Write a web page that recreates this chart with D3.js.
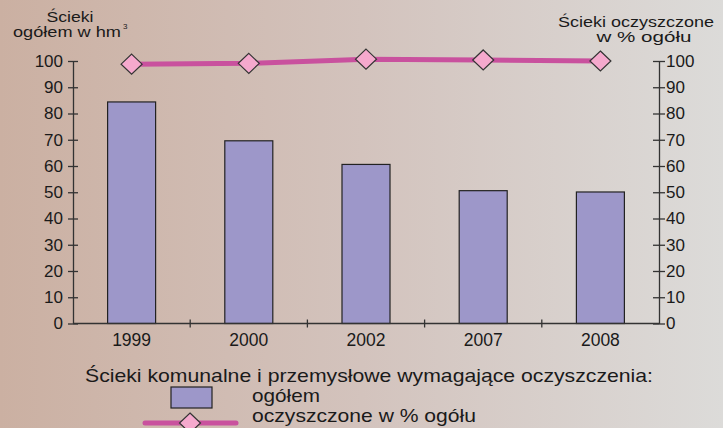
<!DOCTYPE html>
<html>
<head>
<meta charset="utf-8">
<script src="https://cdn.jsdelivr.net/npm/d3@7"></script>
<style>
  body { margin: 0; }
  svg text { font-family: "Liberation Sans", Arial, sans-serif; fill: #1a1a1a; }
</style>
</head>
<body>
<svg id="chart" width="723" height="428"></svg>
<script>
// --- dane ---
const years = ["1999", "2000", "2002", "2007", "2008"];
const totalVals = [84.4, 69.6, 60.6, 50.6, 50.1];      // ścieki ogółem, hm3
const treatedPct = [98.8, 99.1, 100.7, 100.4, 100.0];  // oczyszczone w % ogółu
const yTicks = [0, 10, 20, 30, 40, 50, 60, 70, 80, 90, 100];

const W = 723, H = 428;
const m = { left: 73, right: 659, top: 61, bottom: 323.5 };

const svg = d3.select("#chart");

// tło - gradient
const defs = svg.append("defs");
const grad = defs.append("linearGradient").attr("id", "bg").attr("x1", 0).attr("x2", 1).attr("y1", 0).attr("y2", 0);
grad.append("stop").attr("offset", "0%").attr("stop-color", "#cbb0a2");
grad.append("stop").attr("offset", "50%").attr("stop-color", "#d3c3bd");
grad.append("stop").attr("offset", "100%").attr("stop-color", "#dcdbd9");
svg.append("rect").attr("width", W).attr("height", H).attr("fill", "url(#bg)");

// skale
const x = d3.scaleBand().domain(years).range([m.left, m.right]).paddingInner(0).paddingOuter(0);
const yL = d3.scaleLinear().domain([0, 100]).range([m.bottom, m.top]);
const yR = d3.scaleLinear().domain([0, 100]).range([m.bottom, m.top]);

const barW = 48;

// słupki
svg.append("g").selectAll("rect")
  .data(years)
  .join("rect")
  .attr("x", d => x(d) + x.bandwidth() / 2 - barW / 2)
  .attr("y", (d, i) => yL(totalVals[i]))
  .attr("width", barW)
  .attr("height", (d, i) => yL(0) - yL(totalVals[i]))
  .attr("fill", "#9d97c9")
  .attr("stroke", "#222")
  .attr("stroke-width", 1.2);

// osie
const axisColor = "#333";
function styleAxis(g) {
  g.select(".domain").attr("stroke", axisColor).attr("stroke-width", 1.3);
  g.selectAll(".tick line").attr("stroke", axisColor).attr("stroke-width", 1.3);
  g.selectAll(".tick text").attr("font-size", 17).attr("fill", "#1a1a1a")
    .attr("font-family", "Liberation Sans, Arial, sans-serif");
}

const axL = svg.append("g").attr("transform", `translate(${m.left},0)`)
  .call(d3.axisLeft(yL).tickValues(yTicks).tickSize(5).tickPadding(5).tickSizeOuter(0));
axL.selectAll(".tick line").attr("x2", 5).attr("x1", -5);
styleAxis(axL);

const axR = svg.append("g").attr("transform", `translate(${m.right},0)`)
  .call(d3.axisRight(yR).tickValues(yTicks).tickSize(5).tickPadding(2).tickSizeOuter(0));
axR.selectAll(".tick line").attr("x1", -6).attr("x2", 6);
axR.selectAll(".tick text").attr("x", 7);
styleAxis(axR);

// oś X - kreski na granicach kategorii
const bounds = years.map(d => x(d)).concat([m.right]);
const axX = svg.append("g");
axX.append("line").attr("x1", m.left).attr("x2", m.right).attr("y1", yL(0)).attr("y2", yL(0))
  .attr("stroke", axisColor).attr("stroke-width", 1.3);
axX.selectAll("line.t").data(bounds.slice(1, -1)).join("line").attr("class", "t")
  .attr("x1", d => d).attr("x2", d => d).attr("y1", yL(0) - 4).attr("y2", yL(0) + 4)
  .attr("stroke", axisColor).attr("stroke-width", 1.3);
axX.selectAll("text").data(years).join("text")
  .attr("x", d => x(d) + x.bandwidth() / 2)
  .attr("y", 346)
  .attr("text-anchor", "middle")
  .attr("font-size", 17.5)
  .text(d => d);

// linia
const pts = years.map((d, i) => [x(d) + x.bandwidth() / 2, yR(treatedPct[i])]);
svg.append("path").attr("d", d3.line()(pts))
  .attr("fill", "none").attr("stroke", "#c9519e").attr("stroke-width", 5);

const diamond = (cx, cy) => `M${cx},${cy - 10}L${cx + 10.5},${cy}L${cx},${cy + 10}L${cx - 10.5},${cy}Z`;
svg.append("g").selectAll("path").data(pts).join("path")
  .attr("d", d => diamond(d[0], d[1]))
  .attr("fill", "#f5a9cd").attr("stroke", "#333").attr("stroke-width", 1.2);

// tekst rozciągnięty w poziomie (jak w oryginale)
function wideText(txt, x0, y0, size, len, anchor) {
  return svg.append("text")
    .attr("x", x0).attr("y", y0)
    .attr("font-size", size)
    .attr("text-anchor", anchor || "start")
    .attr("textLength", len)
    .attr("lengthAdjust", "spacingAndGlyphs")
    .text(txt);
}

// tytuły osi
wideText("Ścieki", 70, 22, 14.5, 47, "middle");
wideText("ogółem w hm", 13, 37, 14.5, 108);
svg.append("text").attr("x", 123).attr("y", 29).attr("font-size", 8).text("3");

wideText("Ścieki oczyszczone", 636, 27, 14.5, 156, "middle");
wideText("w % ogółu", 644, 42, 14.5, 95, "middle");

// legenda
wideText("Ścieki komunalne i przemysłowe wymagające oczyszczenia:", 369, 382, 19, 568, "middle");
svg.append("rect").attr("x", 171).attr("y", 387).attr("width", 41).attr("height", 21)
  .attr("fill", "#9d97c9").attr("stroke", "#222").attr("stroke-width", 1.2);
wideText("ogółem", 252, 402, 19, 68);
svg.append("line").attr("x1", 145).attr("x2", 236).attr("y1", 423).attr("y2", 423)
  .attr("stroke", "#c9519e").attr("stroke-width", 5).attr("stroke-linecap", "round");
svg.append("path").attr("d", diamond(190, 423))
  .attr("fill", "#f5a9cd").attr("stroke", "#333").attr("stroke-width", 1.2);
wideText("oczyszczone w % ogółu", 252, 422, 19, 224);
</script>
</body>
</html>
